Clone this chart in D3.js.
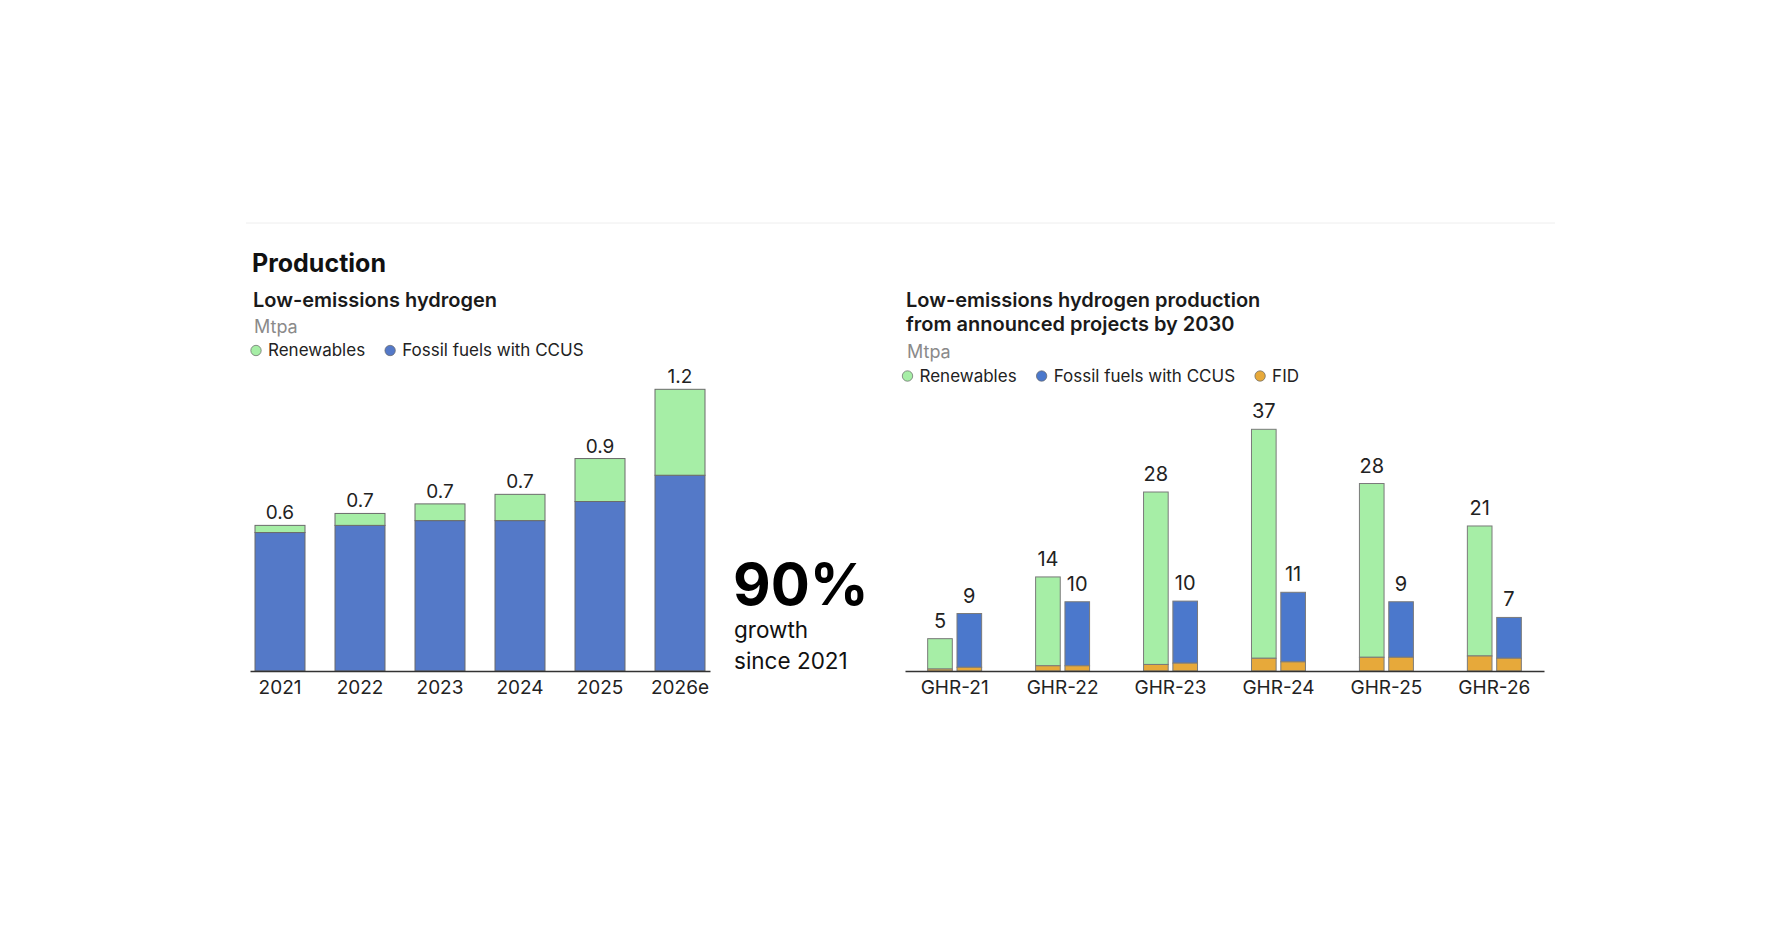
<!DOCTYPE html>
<html>
<head>
<meta charset="utf-8">
<script src="https://cdn.jsdelivr.net/npm/d3@7"></script>
<style>
  body { margin: 0; background: #fff; }
  svg { display: block; font-family: Inter, "Noto Sans", sans-serif; }
</style>
</head>
<body>
<script>
// ---- left panel: low-emissions hydrogen production (Mtpa)
const years = ["2021", "2022", "2023", "2024", "2025", "2026e"];
const fossilProd = [0.58, 0.61, 0.63, 0.63, 0.71, 0.82];
const renewProd = [0.03, 0.05, 0.07, 0.11, 0.18, 0.36];

// ---- right panel: announced projects by 2030 (Mtpa)
const reports = ["GHR-21", "GHR-22", "GHR-23", "GHR-24", "GHR-25", "GHR-26"];
const renewTotal = [4.95, 14.4, 27.4, 37.0, 28.7, 22.2];
const renewFid = [0.3, 0.8, 1.0, 1.95, 2.1, 2.3];
const fossilTotal = [8.8, 10.6, 10.7, 12.05, 10.6, 8.2];
const fossilFid = [0.57, 0.8, 1.2, 1.4, 2.1, 1.95];
const renewLabels = ["5", "14", "28", "37", "28", "21"];
const fossilLabels = ["9", "10", "10", "11", "9", "7"];

const col = { renew: "#a6eea6", fossil: "#5479c8", fossil2: "#4b78cc", fid: "#e7a93a" };

const svg = d3.select("body").append("svg")
    .attr("width", 1784)
    .attr("height", 948);

// thin separator on top
svg.append("line")
    .attr("x1", 246).attr("x2", 1555)
    .attr("y1", 223).attr("y2", 223)
    .attr("stroke", "#eeeeee");

svg.append("text")
    .attr("x", 252).attr("y", 272)
    .attr("font-size", 25).attr("font-weight", 700)
    .attr("fill", "#111")
    .text("Production");

// legend helper
function legend(g, items, x, y) {
    let cx = x;
    items.forEach(it => {
        g.append("circle")
            .attr("cx", cx).attr("cy", y - 5.5)
            .attr("r", 5.2)
            .attr("fill", it.color)
            .attr("stroke", "#666").attr("stroke-width", 0.7);
        const t = g.append("text")
            .attr("x", cx + 12).attr("y", y)
            .attr("font-size", 17).attr("fill", "#222")
            .text(it.name);
        cx += 12 + t.node().getComputedTextLength() + 25;
    });
}

function heading(lines, x, y0, unitY) {
    lines.forEach((l, i) => {
        svg.append("text")
            .attr("x", x).attr("y", y0 + i * 24.5)
            .attr("font-size", 20).attr("font-weight", 600)
            .attr("fill", "#1a1a1a")
            .text(l);
    });
    svg.append("text")
        .attr("x", x + 1).attr("y", unitY)
        .attr("font-size", 18).attr("fill", "#8a8a8a")
        .text("Mtpa");
}

// ================= LEFT CHART =================
heading(["Low-emissions hydrogen"], 253, 306.5, 333);
legend(svg.append("g"), [
    { name: "Renewables", color: col.renew },
    { name: "Fossil fuels with CCUS", color: col.fossil }
], 256, 356);

const leftData = years.map((y, i) => ({ year: y, fossil: fossilProd[i], renew: renewProd[i] }));

const x = d3.scaleBand()
    .domain(years)
    .range([250, 710])
    .paddingInner(0.375)
    .paddingOuter(0.0625);

const yL = d3.scaleLinear()
    .domain([0, d3.max(leftData, d => d.fossil + d.renew)])
    .range([671, 389.3]);

const stackL = d3.stack().keys(["fossil", "renew"])(leftData);

svg.append("g")
    .selectAll("g")
    .data(stackL)
    .join("g")
    .attr("fill", s => col[s.key])
    .selectAll("rect")
    .data(s => s)
    .join("rect")
    .attr("x", d => x(d.data.year))
    .attr("width", x.bandwidth())
    .attr("y", d => yL(d[1]))
    .attr("height", d => yL(d[0]) - yL(d[1]))
    .attr("stroke", "#6b6b6b")
    .attr("stroke-width", 1);

svg.append("g")
    .selectAll("text")
    .data(leftData)
    .join("text")
    .attr("x", d => x(d.year) + x.bandwidth() / 2)
    .attr("y", d => yL(d.fossil + d.renew) - 6)
    .attr("text-anchor", "middle")
    .attr("font-size", 19)
    .attr("fill", "#222")
    .text(d => d3.format(".1f")(d.fossil + d.renew));

const axL = svg.append("g")
    .attr("transform", "translate(0,671)")
    .call(d3.axisBottom(x).tickSize(0).tickSizeOuter(0).tickPadding(10));
axL.select(".domain").attr("stroke", "#333").attr("stroke-width", 1.5);
axL.selectAll("text").attr("font-size", 19).attr("fill", "#222").attr("font-family", "Inter, sans-serif");

// call-out
svg.append("text")
    .attr("x", 733).attr("y", 605)
    .attr("font-size", 58).attr("font-weight", 700)
    .attr("fill", "#000")
    .text("90%");
svg.append("text")
    .attr("x", 734).attr("y", 638)
    .attr("font-size", 22.5).attr("fill", "#111")
    .text("growth");
svg.append("text")
    .attr("x", 734).attr("y", 669)
    .attr("font-size", 22.5).attr("fill", "#111")
    .text("since 2021");

// ================= RIGHT CHART =================
heading(["Low-emissions hydrogen production", "from announced projects by 2030"], 906, 306.5, 358);
legend(svg.append("g"), [
    { name: "Renewables", color: col.renew },
    { name: "Fossil fuels with CCUS", color: col.fossil2 },
    { name: "FID", color: col.fid }
], 907.5, 381.5);

const rightData = reports.flatMap((r, i) => [
    { report: r, kind: "renew", total: renewTotal[i], fid: renewFid[i], label: renewLabels[i] },
    { report: r, kind: "fossil", total: fossilTotal[i], fid: fossilFid[i], label: fossilLabels[i] }
]);

const x0 = d3.scaleBand()
    .domain(reports)
    .range([905, 1544])
    .paddingInner(0.5)
    .paddingOuter(0.21);

const x1 = d3.scaleBand()
    .domain(["renew", "fossil"])
    .range([0, x0.bandwidth()])
    .paddingInner(0.16);

const yR = d3.scaleLinear()
    .domain([0, 37])
    .range([671, 429.3]);

const bars = svg.append("g")
    .selectAll("g")
    .data(rightData)
    .join("g")
    .attr("transform", d => `translate(${x0(d.report) + x1(d.kind)},0)`);

// upper (non-FID) part
bars.append("rect")
    .attr("y", d => yR(d.total))
    .attr("height", d => yR(d.fid) - yR(d.total))
    .attr("width", x1.bandwidth())
    .attr("fill", d => d.kind === "renew" ? col.renew : col.fossil2)
    .attr("stroke", "#7a7a7a")
    .attr("stroke-width", 1);

// FID part
bars.append("rect")
    .attr("y", d => yR(d.fid))
    .attr("height", d => yR(0) - yR(d.fid))
    .attr("width", x1.bandwidth())
    .attr("fill", col.fid)
    .attr("stroke", "#7a7a7a")
    .attr("stroke-width", 1);

bars.append("text")
    .attr("x", x1.bandwidth() / 2)
    .attr("y", d => yR(d.total) - 11)
    .attr("text-anchor", "middle")
    .attr("font-size", 20)
    .attr("fill", "#222")
    .text(d => d.label);

const axR = svg.append("g")
    .attr("transform", "translate(0,671)")
    .call(d3.axisBottom(x0).tickSize(0).tickSizeOuter(0).tickPadding(10));
axR.select(".domain").attr("stroke", "#333").attr("stroke-width", 1.5);
axR.selectAll("text").attr("font-size", 19).attr("fill", "#222").attr("font-family", "Inter, sans-serif");
</script>
</body>
</html>
